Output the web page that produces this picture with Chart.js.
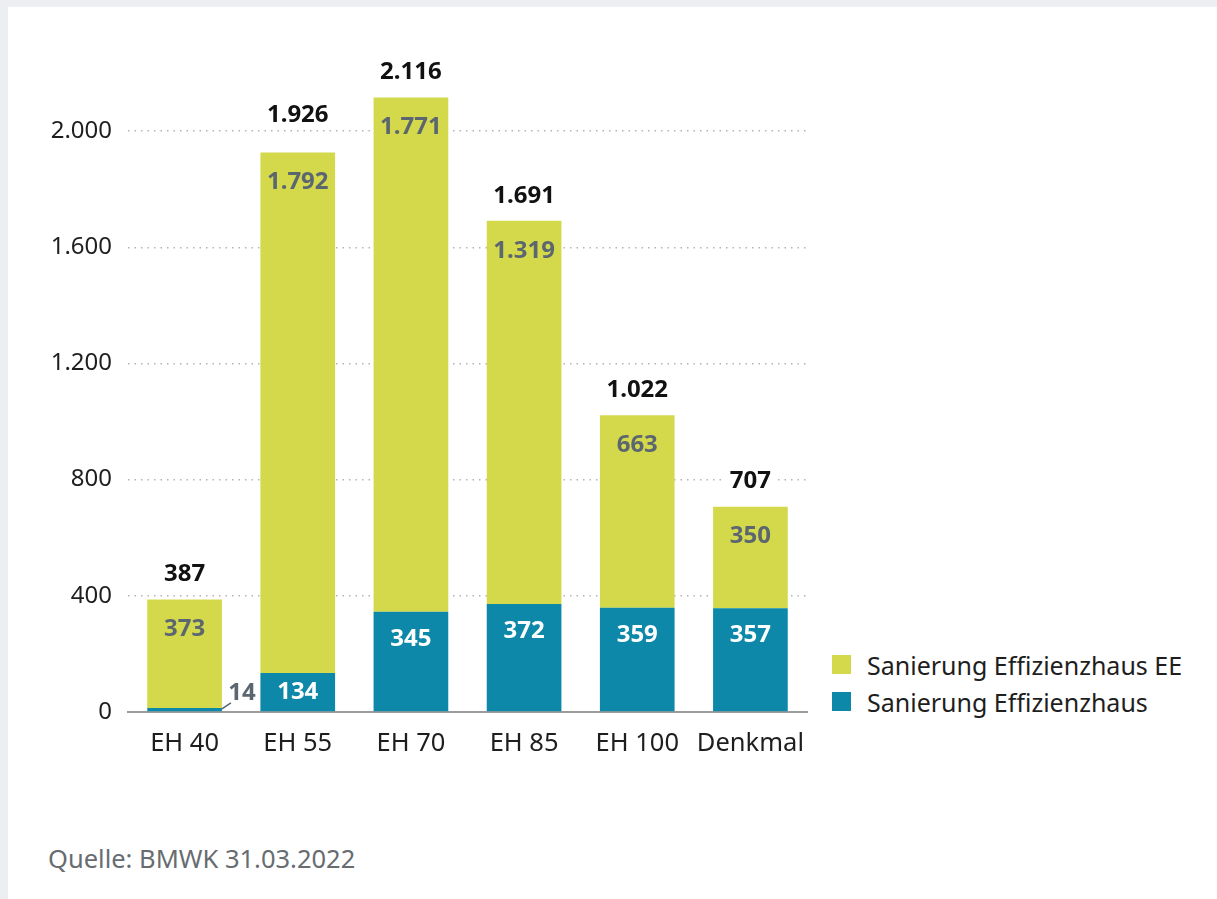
<!DOCTYPE html>
<html lang="de">
<head>
<meta charset="utf-8">
<title>Sanierung Effizienzhaus</title>
<script src="https://cdn.jsdelivr.net/npm/chart.js@4/dist/chart.umd.min.js"></script>
<style>
  html, body { margin: 0; padding: 0; }
  body { width: 1217px; height: 899px; background: #eceef2; position: relative; overflow: hidden; font-family: "Noto Sans", sans-serif; }
  #card { position: absolute; left: 8px; top: 7px; right: 0; bottom: 0; background: #fff; }
  #wrap { position: absolute; left: 0; top: 0; width: 830px; height: 800px; }
  #legend { position: absolute; left: 832px; top: 646px; }
  .item { display: flex; align-items: center; height: 37px; font-size: 25px; color: #1e1e1e; }
  .box { width: 19px; height: 19px; margin-right: 16px; }
  #source { position: absolute; left: 48px; top: 841px; font-size: 25.5px; color: #676c71; }
</style>
</head>
<body>
<div id="card"></div>
<div id="wrap"><canvas id="chart" width="830" height="800"></canvas></div>
<div id="legend"></div>
<div id="source">Quelle: BMWK 31.03.2022</div>
<script>
const categories = ["EH 40", "EH 55", "EH 70", "EH 85", "EH 100", "Denkmal"];
const effizienzhaus = [14, 134, 345, 372, 359, 357];
const effizienzhausEE = [373, 1792, 1771, 1319, 663, 350];
const totals = [387, 1926, 2116, 1691, 1022, 707];
const yTicks = [0, 400, 800, 1200, 1600, 2000];

const TEAL = "#0e88a9";
const LIME = "#d4d94b";
const GREY_TEXT = "#5b6670";

function fmt(v) {
  return String(v).replace(/\B(?=(\d{3})+(?!\d))/g, ".");
}

// value labels inside / above the bars
const barLabels = {
  id: "barLabels",
  afterDatasetsDraw(chart) {
    const ctx = chart.ctx;
    const bottomMeta = chart.getDatasetMeta(0);
    const topMeta = chart.getDatasetMeta(1);
    ctx.save();
    ctx.textAlign = "center";
    ctx.textBaseline = "middle";
    ctx.font = "bold 24px 'Noto Sans', sans-serif";

    bottomMeta.data.forEach((bar, i) => {
      const h = bar.base - bar.y;
      if (h < 30) {
        const right = bar.x + bar.width / 2;
        ctx.strokeStyle = GREY_TEXT;
        ctx.lineWidth = 1.5;
        ctx.beginPath();
        ctx.moveTo(right, bar.y + 1);
        ctx.lineTo(right + 9, bar.y - 5);
        ctx.stroke();
        ctx.fillStyle = GREY_TEXT;
        ctx.fillText(fmt(effizienzhaus[i]), right + 20, bar.y - 15);
      } else {
        ctx.fillStyle = "#ffffff";
        ctx.fillText(fmt(effizienzhaus[i]), bar.x, Math.min(bar.y + 27, (bar.y + bar.base) / 2));
      }
    });

    topMeta.data.forEach((bar, i) => {
      ctx.fillStyle = GREY_TEXT;
      ctx.fillText(fmt(effizienzhausEE[i]), bar.x, bar.y + 30);

      const label = fmt(totals[i]);
      let ty = bar.y - 25;
      // keep the total clear of a grid line it would sit right on top of
      const onLine = yTicks.some(t => {
        const gy = chart.scales.y.getPixelForValue(t);
        return gy - ty > 2 && gy - ty < 10;
      });
      if (onLine) ty -= 12;
      const w = ctx.measureText(label).width;
      ctx.fillStyle = "#ffffff";
      ctx.fillRect(bar.x - w / 2 - 4, ty - 12, w + 8, 24);
      ctx.fillStyle = "#111111";
      ctx.fillText(label, bar.x, ty);
    });
    ctx.restore();
  }
};

const ctx = document.getElementById("chart").getContext("2d");
const chart = new Chart(ctx, {
  type: "bar",
  data: {
    labels: categories,
    datasets: [
      { label: "Sanierung Effizienzhaus", data: effizienzhaus, backgroundColor: TEAL, borderWidth: 0 },
      { label: "Sanierung Effizienzhaus EE", data: effizienzhausEE, backgroundColor: LIME, borderWidth: 0 },
    ]
  },
  options: {
    responsive: false,
    animation: false,
    layout: { padding: { top: 73, right: 23, left: 0, bottom: 0 } },
    datasets: { bar: { barPercentage: 0.66, categoryPercentage: 1 } },
    plugins: { legend: { display: false }, tooltip: { enabled: false } },
    scales: {
      x: {
        stacked: true,
        grid: { display: false },
        border: { display: true, color: "#9c9c9c", width: 2 },
        ticks: { color: "#1e1e1e", font: { family: "'Noto Sans', sans-serif", size: 25.5 }, padding: 8 },
        afterFit(axis) { axis.height = 88; }
      },
      y: {
        stacked: true,
        min: 0,
        max: 2200,
        afterBuildTicks(axis) { axis.ticks = yTicks.map(v => ({ value: v })); },
        grid: { color: "#b3b3b3", lineWidth: 1.5, drawTicks: false },
        border: { display: false, dash: [1.5, 5] },
        ticks: {
          color: "#1e1e1e",
          font: { family: "'Noto Sans', sans-serif", size: 24 },
          padding: 16,
          callback: v => fmt(v)
        },
        afterFit(axis) { axis.width = 128; }
      }
    }
  },
  plugins: [barLabels]
});

// legend: EE first, as in the original
const legend = document.getElementById("legend");
[1, 0].forEach(idx => {
  const ds = chart.data.datasets[idx];
  const item = document.createElement("div");
  item.className = "item";
  const box = document.createElement("span");
  box.className = "box";
  box.style.background = ds.backgroundColor;
  const text = document.createElement("span");
  text.textContent = ds.label;
  item.appendChild(box);
  item.appendChild(text);
  legend.appendChild(item);
});
</script>
</body>
</html>
